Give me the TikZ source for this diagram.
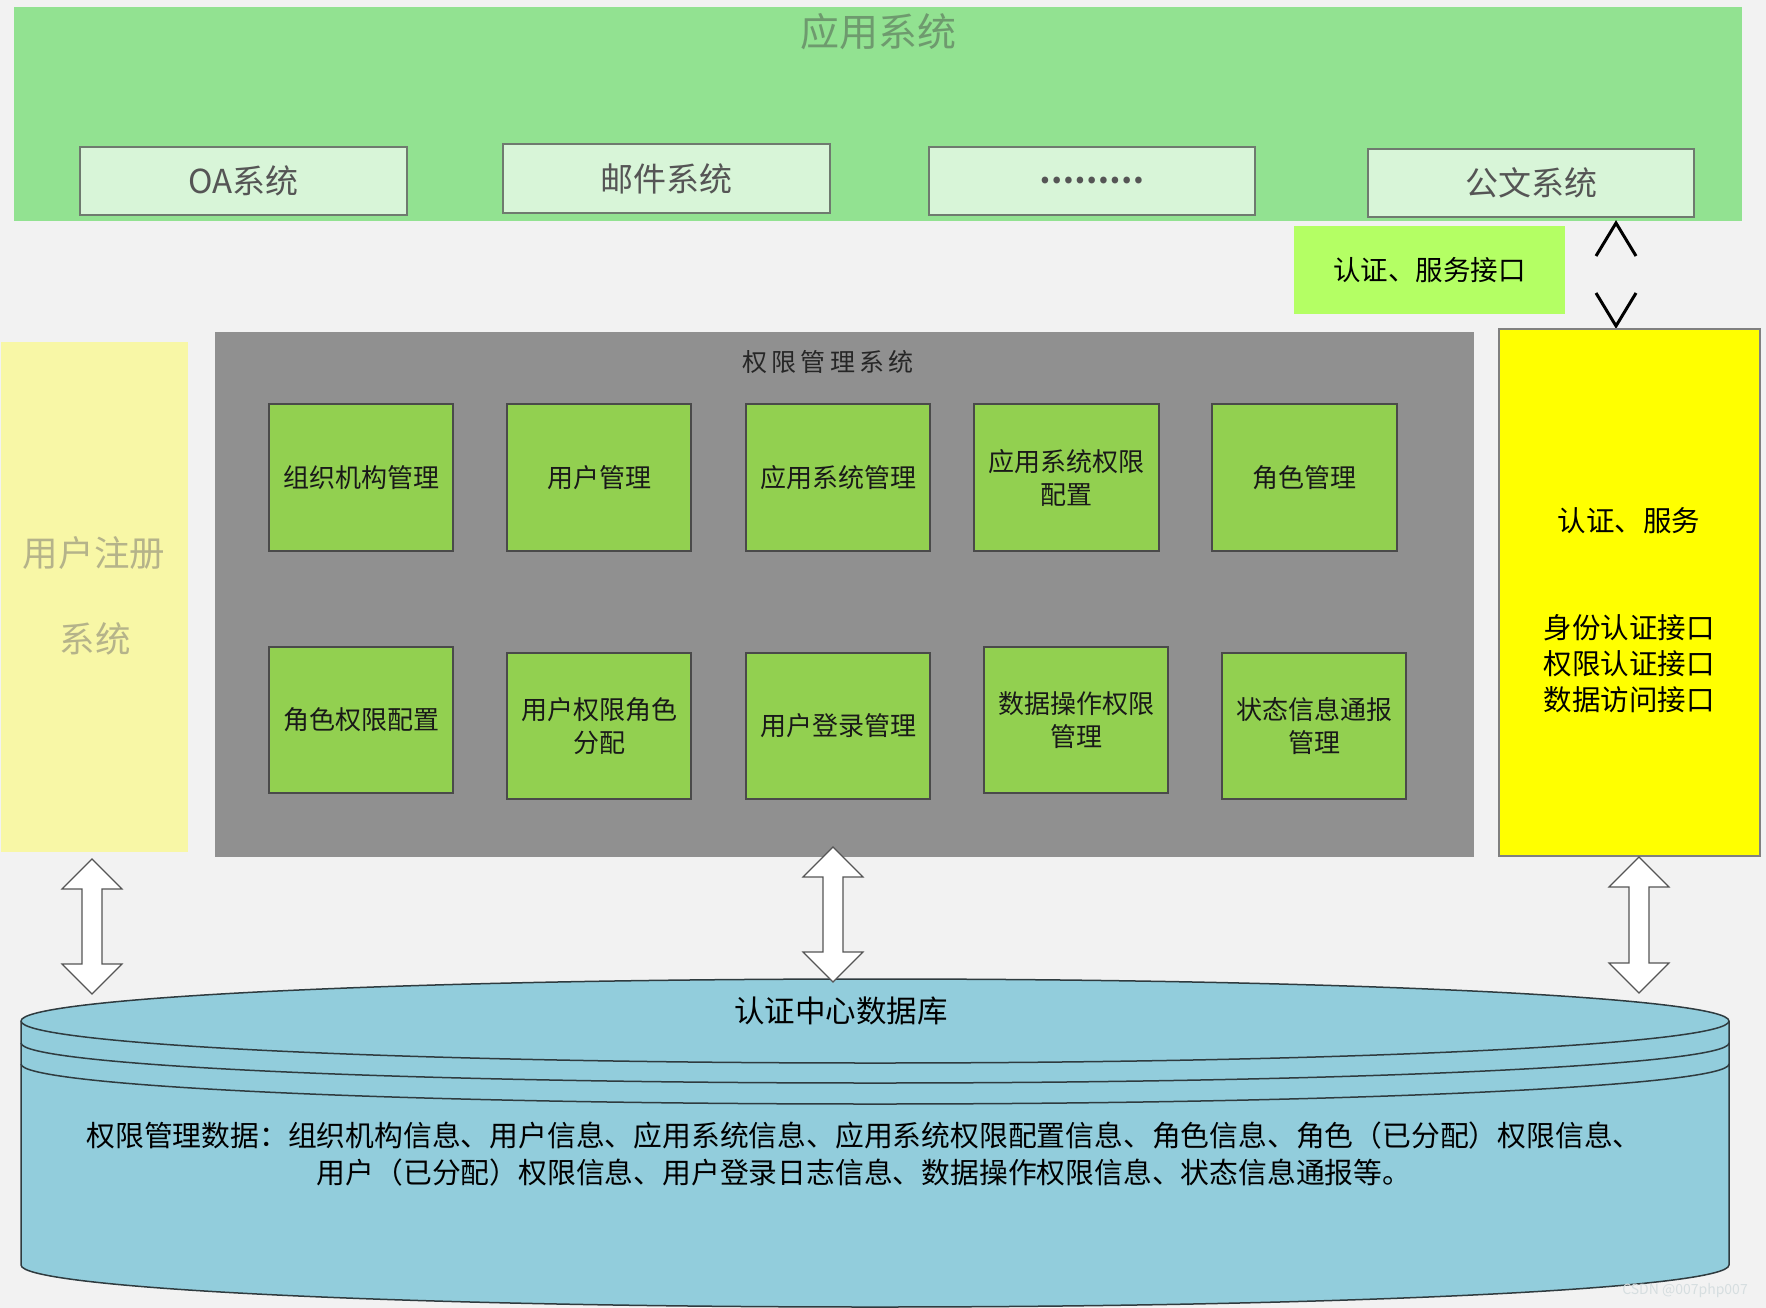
\documentclass[tikz,border=0pt]{standalone}
\usepackage{fontspec}
\setmainfont{Noto Sans CJK SC}
\usetikzlibrary{calc}
\definecolor{bg}{HTML}{F2F2F2}
\definecolor{band}{HTML}{92E291}
\definecolor{bandtext}{HTML}{6E9A6E}
\definecolor{subfill}{HTML}{D8F5D8}
\definecolor{subline}{HTML}{6F7A6F}
\definecolor{subtext}{HTML}{555555}
\definecolor{lime}{HTML}{B4FF64}
\definecolor{paleyel}{HTML}{F8F7A6}
\definecolor{paleyeltext}{HTML}{B5B38A}
\definecolor{graybox}{HTML}{909090}
\definecolor{gfill}{HTML}{92D050}
\definecolor{gline}{HTML}{4A4A4A}
\definecolor{yel}{HTML}{FFFF00}
\definecolor{yelline}{HTML}{808080}
\definecolor{cylfill}{HTML}{92CDDC}
\definecolor{cylline}{HTML}{2F3B3F}
\definecolor{arrline}{HTML}{555555}
\definecolor{wmark}{HTML}{D6DEE0}
\newcommand{\bx}[7]{%
  \pgfmathsetmacro\bxcx{(#3+#5)/2}\pgfmathsetmacro\bxcy{(#4+#6)/2}%
  \pgfmathsetmacro\bxw{#5-#3}\pgfmathsetmacro\bxh{#6-#4}%
  \node[#2, minimum width=\bxw pt, minimum height=\bxh pt] (#1) at (\bxcx,\bxcy) {#7};}
\newcommand{\dblarr}[2]{%
  \draw[blockarr] let \p1=(#1), \p2=(#2) in
    (\x1,\y1) -- (\x1+30pt,\y1-30pt) -- (\x1+10pt,\y1-30pt) -- (\x1+10pt,\y2+30pt)
    -- (\x1+30pt,\y2+30pt) -- (\x1,\y2) -- (\x1-30pt,\y2+30pt) -- (\x1-10pt,\y2+30pt)
    -- (\x1-10pt,\y1-30pt) -- (\x1-30pt,\y1-30pt) -- cycle;}
\begin{document}
\begin{tikzpicture}[x=1pt,y=-1pt,
  every node/.style={inner sep=0pt, outer sep=0pt},
  sub/.style={draw=subline, fill=subfill, line width=1.5pt, text=subtext,
    font=\fontsize{33}{38}\selectfont},
  gbox/.style={draw=gline, fill=gfill, line width=1.5pt, text=black!90,
    font=\fontsize{26}{33}\selectfont, align=center},
  blockarr/.style={draw=arrline, fill=white, line width=1.2pt, line join=miter},
  chev/.style={draw=black, line width=3pt, line join=miter},
  cyl/.style={draw=cylline, fill=cylfill, line width=1.5pt}]
\fill[bg] (0,0) rectangle (1766,1308);
\useasboundingbox (0,0) rectangle (1766,1308);

% application systems band
\bx{band}{fill=band}{14}{7}{1742}{221}{}
\node[text=bandtext, font=\fontsize{39}{44}\selectfont] (bandtitle) at (878,32) {应用系统};
\bx{oa}{sub}{80}{147}{407}{215}{OA系统}
\bx{mail}{sub}{503}{144}{830}{213}{邮件系统}
\bx{more}{sub}{929}{147}{1255}{215}{\bfseries\fontsize{31}{36}\selectfont ………}
\bx{doc}{sub}{1368}{149}{1694}{217}{公文系统}

% interface label
\bx{iface}{fill=lime, font=\fontsize{27.5}{32}\selectfont}{1294}{226}{1565}{314}{认证、服务接口}

% chevrons (auth/service link)
\coordinate (chtop) at (1616,223);
\coordinate (chbot) at (1616,326);
\draw[chev] ($(chtop)+(-20,33)$) -- (chtop) -- ($(chtop)+(20,33)$);
\draw[chev] ($(chbot)+(-20,-33)$) -- (chbot) -- ($(chbot)+(20,-33)$);

% user registration
\bx{reg}{fill=paleyel}{1}{342}{188}{852}{}
\node[text=paleyeltext, font=\fontsize{35.5}{40}\selectfont] (regt1) at (94,553) {用户注册};
\node[text=paleyeltext, font=\fontsize{35.5}{40}\selectfont] (regt2) at (95,639) {系统};

% permission management system
\bx{perm}{fill=graybox}{215}{332}{1474}{857}{}
\node[text=black!85, font=\fontsize{25}{30}\selectfont] (permtitle) at (828,362) {权\,限\,管\,理\,系\,统};
\bx{g1}{gbox}{269}{404}{453}{551}{组织机构管理}
\bx{g2}{gbox}{507}{404}{691}{551}{用户管理}
\bx{g3}{gbox}{746}{404}{930}{551}{应用系统管理}
\bx{g4}{gbox}{974}{404}{1159}{551}{应用系统权限\\配置}
\bx{g5}{gbox}{1212}{404}{1397}{551}{角色管理}
\bx{g6}{gbox}{269}{647}{453}{793}{角色权限配置}
\bx{g7}{gbox}{507}{653}{691}{799}{用户权限角色\\分配}
\bx{g8}{gbox}{746}{653}{930}{799}{用户登录管理}
\bx{g9}{gbox}{984}{647}{1168}{793}{数据操作权限\\管理}
\bx{g10}{gbox}{1222}{653}{1406}{799}{状态信息通报\\管理}

% auth service box
\bx{auth}{draw=yelline, fill=yel, line width=1.5pt}{1499}{329}{1760}{856}{}
\node[font=\fontsize{28.5}{36}\selectfont] (autht) at (1629,521) {认证、服务};
\node[font=\fontsize{28.5}{36}\selectfont, align=center] (authl) at (1629,664) {身份认证接口\\权限认证接口\\数据访问接口};

% database cylinder
\draw[cyl] (21,1021) -- (21,1265) arc[start angle=180, end angle=360, x radius=854pt, y radius=42pt]
  -- (1729,1021) arc[start angle=0, end angle=180, x radius=854pt, y radius=42pt] -- cycle;
\draw[cylline, line width=1.5pt] (21,1021) arc[start angle=180, end angle=360, x radius=854pt, y radius=42pt];
\draw[cylline, line width=1.5pt] (21,1043) arc[start angle=180, end angle=360, x radius=854pt, y radius=40pt];
\draw[cylline, line width=1.5pt] (21,1064) arc[start angle=180, end angle=360, x radius=854pt, y radius=40pt];
\node[font=\fontsize{30.5}{34}\selectfont] (dbtitle) at (841,1011) {认证中心数据库};
\node[font=\fontsize{28.8}{37}\selectfont, align=center] (dbtext) at (864,1154)
  {权限管理数据：组织机构信息、用户信息、应用系统信息、应用系统权限配置信息、角色信息、角色（已分配）权限信息、\\
   用户（已分配）权限信息、用户登录日志信息、数据操作权限信息、状态信息通报等。};

% block double arrows
\coordinate (a1t) at (92,859);  \coordinate (a1b) at (92,994);
\coordinate (a2t) at (833,847); \coordinate (a2b) at (833,982);
\coordinate (a3t) at (1639,857); \coordinate (a3b) at (1639,993);
\dblarr{a1t}{a1b}
\dblarr{a2t}{a2b}
\dblarr{a3t}{a3b}

% watermark
\node[text=wmark, font=\fontsize{14}{16}\selectfont] (wm) at (1685,1291) {CSDN @007php007};
\end{tikzpicture}
\end{document}
